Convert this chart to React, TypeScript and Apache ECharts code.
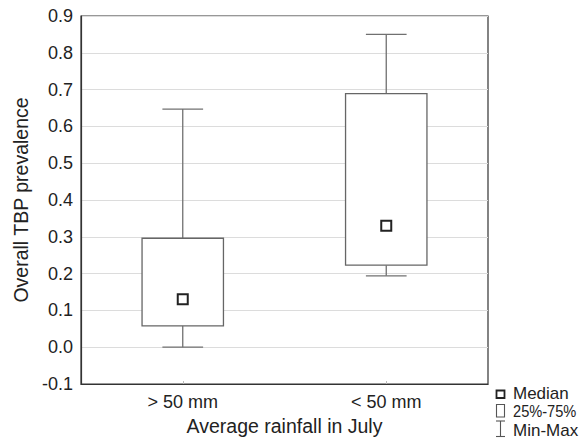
import React, { useEffect, useRef } from "react";
import * as echarts from "echarts";

const categories = ["> 50 mm", "< 50 mm"];
const minValues = [0.0, 0.194];
const q1Values = [0.058, 0.223];
const medianValues = [0.13, 0.33];
const q3Values = [0.296, 0.689];
const maxValues = [0.647, 0.85];
const legendLabels = ["Median", "25%-75%", "Min-Max"];

const FONT = "'Liberation Sans', Arial, sans-serif";

export default function App() {
  const ref = useRef<HTMLDivElement>(null);
  useEffect(() => {
    if (!ref.current) return;
    const chart = echarts.init(ref.current, undefined, { renderer: "svg" });
    const boxData = categories.map((_, i) => [
      i,
      minValues[i],
      q1Values[i],
      medianValues[i],
      q3Values[i],
      maxValues[i],
    ]);
    const medData = categories.map((_, i) => [i, medianValues[i]]);
    chart.setOption({
      animation: false,
      backgroundColor: "#fff",
      textStyle: { fontFamily: FONT },
      grid: {
        left: 81,
        top: 16,
        right: 99,
        bottom: 62,
        show: true,
        borderColor: "#333",
        borderWidth: 1.2,
        backgroundColor: "transparent",
      },
      xAxis: {
        type: "category",
        data: categories,
        boundaryGap: true,
        name: "Average rainfall in July",
        nameLocation: "middle",
        nameGap: 29,
        nameTextStyle: { fontSize: 19.5, color: "#222", fontFamily: FONT },
        axisLine: { onZero: false, lineStyle: { color: "#333", width: 1.2 } },
        axisTick: { show: true, alignWithLabel: true, inside: true, length: 3, lineStyle: { color: "#bbb" } },
        axisLabel: { fontSize: 18, color: "#222", margin: 9, fontFamily: FONT },
        splitLine: { show: false },
      },
      yAxis: {
        type: "value",
        min: -0.1,
        max: 0.9,
        interval: 0.1,
        name: "Overall TBP prevalence",
        nameLocation: "middle",
        nameGap: 48,
        nameTextStyle: { fontSize: 19.5, color: "#222", fontFamily: FONT },
        axisLine: { show: true, onZero: false, lineStyle: { color: "#333", width: 1.2 } },
        axisTick: { show: false },
        axisLabel: {
          fontSize: 18,
          color: "#222",
          margin: 8,
          fontFamily: FONT,
          formatter: (v: number) => v.toFixed(1),
        },
        splitLine: { show: true, lineStyle: { color: "#dcdcdc", width: 1.2 } },
      },
      series: [
        {
          type: "custom",
          data: boxData,
          renderItem: (params: any, api: any) => {
            const x = api.value(0);
            const lo = api.coord([x, api.value(1)]);
            const q1 = api.coord([x, api.value(2)]);
            const q3 = api.coord([x, api.value(4)]);
            const hi = api.coord([x, api.value(5)]);
            const band = api.size([1, 0])[0];
            const bw = band * 0.4;
            const cw = band * 0.2;
            const cx = lo[0];
            const lineStyle = { stroke: "#707070", lineWidth: 1.3, fill: null };
            return {
              type: "group",
              children: [
                { type: "line", shape: { x1: cx, y1: hi[1], x2: cx, y2: q3[1] }, style: lineStyle },
                { type: "line", shape: { x1: cx, y1: q1[1], x2: cx, y2: lo[1] }, style: lineStyle },
                { type: "line", shape: { x1: cx - cw / 2, y1: hi[1], x2: cx + cw / 2, y2: hi[1] }, style: lineStyle },
                { type: "line", shape: { x1: cx - cw / 2, y1: lo[1], x2: cx + cw / 2, y2: lo[1] }, style: lineStyle },
                {
                  type: "rect",
                  shape: { x: cx - bw / 2, y: q3[1], width: bw, height: q1[1] - q3[1] },
                  style: { fill: "#fff", stroke: "#666", lineWidth: 1.3 },
                },
              ],
            };
          },
          z: 2,
        },
        {
          type: "scatter",
          data: medData,
          symbol: "rect",
          symbolSize: 10,
          itemStyle: { color: "#fff", borderColor: "#222", borderWidth: 2, opacity: 1 },
          z: 3,
        },
      ],
      graphic: [
        { type: "rect", shape: { x: 496.5, y: 390.5, width: 8, height: 7.5 }, style: { fill: "#fff", stroke: "#222", lineWidth: 1.8 } },
        { type: "rect", shape: { x: 496.5, y: 404.5, width: 8, height: 12.5 }, style: { fill: "#fff", stroke: "#555", lineWidth: 1.1 } },
        { type: "line", shape: { x1: 500.5, y1: 421, x2: 500.5, y2: 436.5 }, style: { stroke: "#555", lineWidth: 1.1 } },
        { type: "line", shape: { x1: 496, y1: 421, x2: 505, y2: 421 }, style: { stroke: "#555", lineWidth: 1.1 } },
        { type: "line", shape: { x1: 496, y1: 436.5, x2: 505, y2: 436.5 }, style: { stroke: "#555", lineWidth: 1.1 } },
        { type: "text", x: 513, y: 393.5, style: { text: legendLabels[0], fontSize: 17, fill: "#222", fontFamily: FONT, verticalAlign: "middle" } },
        { type: "text", x: 513, y: 411.5, scaleX: 0.86, style: { text: legendLabels[1], fontSize: 17, fill: "#222", fontFamily: FONT, verticalAlign: "middle" } },
        { type: "text", x: 513, y: 430, style: { text: legendLabels[2], fontSize: 17, fill: "#222", fontFamily: FONT, verticalAlign: "middle" } },
      ],
    });
    return () => chart.dispose();
  }, []);
  return <div ref={ref} style={{ width: 587, height: 446, margin: -8 }} />;
}
